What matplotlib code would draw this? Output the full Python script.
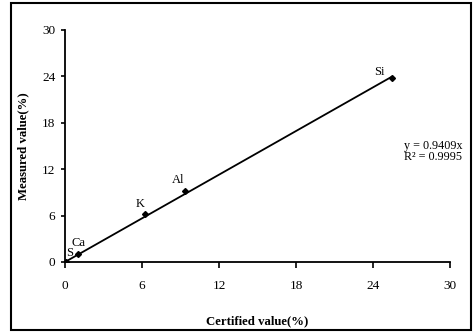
import matplotlib
matplotlib.use("Agg")
import matplotlib.pyplot as plt
from matplotlib.patches import Rectangle
import numpy as np

elements = ["S", "Ca", "K", "Al", "Si"]
certified = [0.05, 1.0, 6.25, 9.35, 25.45]
measured = [0.05, 1.03, 6.25, 9.15, 23.85]
slope = 0.9409
r2 = 0.9995
ticks = [0, 6, 12, 18, 24, 30]

plt.rcParams['font.family'] = ['Liberation Serif', 'DejaVu Serif']

fig = plt.figure(figsize=(4.75, 3.33), dpi=100)
W, H = 475, 333
ax = fig.add_axes([65 / W, 1 - 262 / H, (450 - 65) / W, (262 - 30) / H])

fig.patches.append(Rectangle((11 / W, 3 / H), (471 - 11) / W, (330 - 3) / H,
                             transform=fig.transFigure, fill=False,
                             edgecolor='black', linewidth=1.5))

xs = np.array([0, max(certified)])
ax.plot(xs, slope * xs, color='black', linewidth=1.3)
ax.plot(certified, measured, linestyle='none', marker='D', markersize=3,
        color='black')

offsets = {"S": (3, 6.5), "Ca": (0.5, 8), "K": (-3.6, 7), "Al": (-5, 8), "Si": (-8.6, 4)}
for e, x, y in zip(elements, certified, measured):
    dx, dy = offsets[e]
    ax.annotate(e, (x, y), xytext=(dx, dy), textcoords='offset points',
                ha='center', va='center', fontsize=9)

ax.text(26.4, 15.05, f"y = {slope}x", fontsize=8.7, ha='left', va='center')
ax.text(26.4, 13.6, f"R² = {r2}", fontsize=8.7, ha='left', va='center')

ax.set_xlim(0, 30)
ax.set_ylim(0, 30)
ax.set_xticks(ticks)
ax.set_yticks(ticks)
ax.spines['top'].set_visible(False)
ax.spines['right'].set_visible(False)
ax.spines['left'].set_linewidth(1.3)
ax.spines['bottom'].set_linewidth(1.3)
ax.tick_params(axis='x', direction='out', length=4, width=1.2, pad=9, labelsize=9.5)
ax.tick_params(axis='y', direction='out', length=3, width=1.2, pad=4, labelsize=9.5)

ax.set_xlabel("Certified value(%)", fontsize=9.2, fontweight='bold', labelpad=17)
ax.set_ylabel("Measured value(%)", fontsize=9.2, fontweight='bold', labelpad=9)

fig.savefig("out.png", dpi=100)
